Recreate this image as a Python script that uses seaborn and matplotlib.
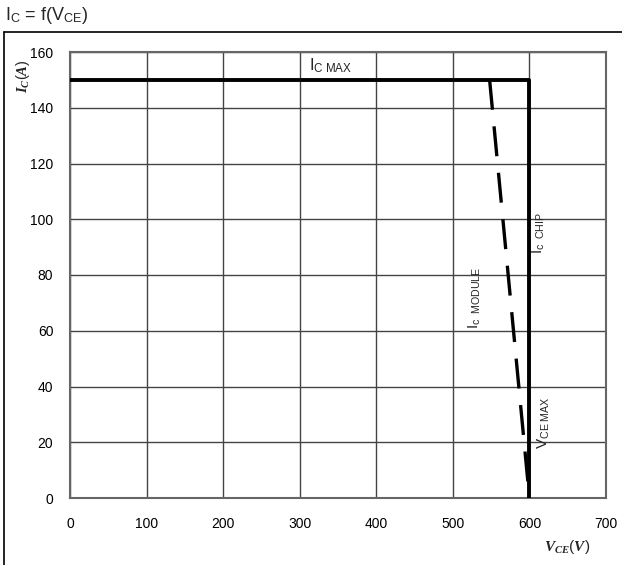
import matplotlib
matplotlib.use("Agg")
import matplotlib.pyplot as plt
import seaborn as sns
import pandas as pd
from matplotlib.lines import Line2D

# Data
chip_vce = [0, 600, 600]
chip_ic = [150, 150, 0]
module_vce = [548, 600]
module_ic = [150, 0]
x_ticks = [0, 100, 200, 300, 400, 500, 600, 700]
y_ticks = [0, 20, 40, 60, 80, 100, 120, 140, 160]

sns.set_theme(style="white")
plt.rcParams['font.family'] = ['Liberation Sans', 'DejaVu Sans']
plt.rcParams['mathtext.fontset'] = 'custom'
plt.rcParams['mathtext.rm'] = 'Liberation Sans'
plt.rcParams['mathtext.it'] = 'Liberation Serif:italic:bold'

fig = plt.figure(figsize=(6.22, 5.65), dpi=100)
ax = fig.add_axes([70/622, 1-498/565, (606-70)/622, (498-52)/565])

chip = pd.DataFrame({"VCE": chip_vce, "IC": chip_ic})
mod = pd.DataFrame({"VCE": module_vce, "IC": module_ic})
sns.lineplot(data=chip, x="VCE", y="IC", sort=False, estimator=None, ax=ax,
             color="black", lw=2.8, zorder=3)
sns.lineplot(data=mod, x="VCE", y="IC", sort=False, estimator=None, ax=ax,
             color="black", lw=2.4, zorder=3)
ax.lines[1].set_dashes([9, 5])

ax.set_xlim(0, 700)
ax.set_ylim(0, 160)
ax.set_xticks(x_ticks)
ax.set_yticks(y_ticks)
ax.tick_params(axis='both', length=0, labelsize=10, colors="black", pad=14)
ax.tick_params(axis='y', pad=12)
ax.grid(True, color="#444444", lw=1.0)
for s in ax.spines.values():
    s.set_color("#666666")
    s.set_linewidth(1.5)
ax.set_xlabel("")
ax.set_ylabel("")

# annotations
ax.text(340, 155, r"I$_{\mathregular{C\ MAX}}$", fontsize=12, ha="center", va="center")
ax.text(613, 95, r"I$_{\mathregular{c\ \ CHIP}}$", fontsize=11, rotation=90, ha="center", va="center")
ax.text(529, 72, r"I$_{\mathregular{c\ \ MODULE}}$", fontsize=11, rotation=90, ha="center", va="center")
ax.text(619, 27, r"V$_{\mathregular{CE\ MAX}}$", fontsize=11, rotation=90, ha="center", va="center")

# axis labels
fig.text(23/622, 1-76/565, r"$I_{C}(A)$", rotation=90, fontsize=10.5, ha="center", va="center",
         family="Liberation Serif")
fig.text(567/622, 1-547/565, r"$V_{CE}(V)$", fontsize=11, ha="center", va="center",
         family="Liberation Serif")

# title
fig.text(5/622, 1-15/565, r"I$_{\mathregular{C}}$ = f(V$_{\mathregular{CE}}$)", fontsize=13,
         ha="left", va="center")

# frame lines (top and left)
fig.add_artist(Line2D([4/622, 1], [1-32/565, 1-32/565], transform=fig.transFigure, color="black", lw=1.2))
fig.add_artist(Line2D([4/622, 4/622], [0, 1-32/565], transform=fig.transFigure, color="black", lw=1.2))

fig.savefig("out.png", dpi=100)
